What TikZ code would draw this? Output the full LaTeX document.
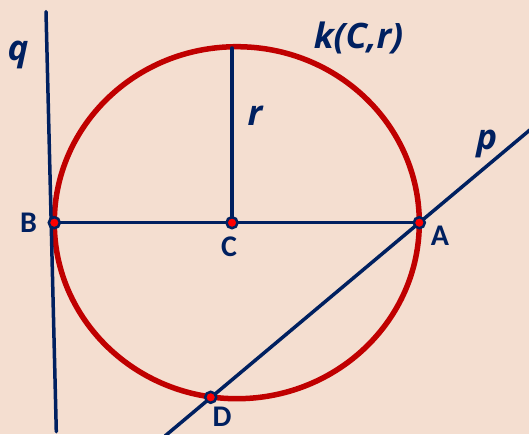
\documentclass[tikz,border=0pt]{standalone}
\usepackage{fontspec}
\newfontfamily\pointfont{Carlito}
\newfontfamily\handfont{Open Sans}
\usetikzlibrary{positioning}
\definecolor{navy}{RGB}{0,32,96}
\definecolor{kred}{RGB}{192,0,0}
\definecolor{bg}{RGB}{244,222,208}
\tikzset{
  ln/.style   ={draw=navy,line width=3.5pt,line cap=round},
  kruh/.style ={draw=kred,line width=5.5pt},
  dot/.style  ={circle,fill=red,draw=navy,line width=2.5pt,inner sep=0pt,minimum size=11pt},
  plab/.style ={text=navy,font=\pointfont\bfseries\fontsize{30}{30}\selectfont,inner sep=0pt},
  hlab/.style ={text=navy,font=\handfont\bfseries\itshape\fontsize{35}{35}\selectfont,inner sep=0pt},
}

\begin{document}
\begin{tikzpicture}[x=1pt,y=-1pt]
\fill[bg] (0,0) rectangle (529,434);
\useasboundingbox (0,0) rectangle (529,434);
% points
\coordinate (O) at (236.8,222.7);
\coordinate (C) at (232,222.7);
\coordinate (A) at (419.3,222.7);
\coordinate (B) at (54.3,222.7);
\coordinate (D) at (210.7,397.3);
\coordinate (R) at (232,48);
\coordinate (q1) at (46,11.7);
\coordinate (q2) at (56.3,431.7);
\coordinate (p1) at (165,436);
\coordinate (p2) at (531,129);
% circle
\draw[kruh] (O) ellipse [x radius=182.5,y radius=176];
% lines
\draw[ln] (q1) -- (q2);
\draw[ln,line cap=butt] (p1) -- (p2);
\draw[ln] (B) -- (A);
\draw[ln] (C) -- (R);
\node[dot] (dA) at (A) {};
\node[dot] (dB) at (B) {};
\node[dot] (dC) at (C) {};
\node[dot] (dD) at (D) {};
% labels
\node[plab] (lA) at (440,235.5) {A};
\node[plab] (lB) at (28.5,223) {B};
\node[plab] (lC) at (229,247) {C};
\node[plab] (lD) at (222,416.5) {D};
\node[hlab] (lq) at (18,55) {q};
\node[hlab] (lp) at (486.7,144) {p};
\node[hlab] (lr) at (255,116) {r};
\node[hlab] (lk) at (358.5,37.5) {k(C,r)};
\end{tikzpicture}
\end{document}
